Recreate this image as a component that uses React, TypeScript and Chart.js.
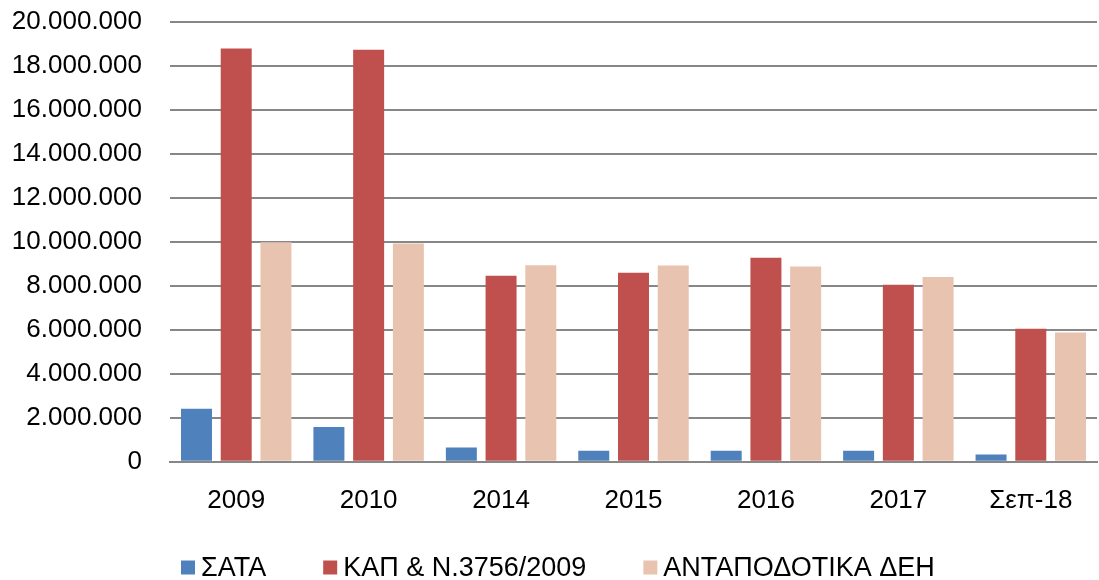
import React, { useEffect, useRef } from "react";
import { Chart, registerables } from "chart.js";

Chart.register(...registerables);

const categories = ["2009", "2010", "2014", "2015", "2016", "2017", "Σεπ-18"];
const seriesNames = ["ΣΑΤΑ", "ΚΑΠ & Ν.3756/2009", "ΑΝΤΑΠΟΔΟΤΙΚΑ ΔΕΗ"];
const sata = [2410000, 1580000, 650000, 500000, 500000, 500000, 330000];
const kap = [18800000, 18740000, 8460000, 8600000, 9280000, 8050000, 6050000];
const deh = [9980000, 9930000, 8940000, 8930000, 8880000, 8400000, 5880000];
const colors = ["#4F81BD", "#C0504D", "#E8C3AF"];
const yMax = 20000000;
const yStep = 2000000;

const FONT = "'Liberation Sans', Arial, sans-serif";

function fmt(v: number): string {
  return String(Math.round(v)).replace(/\B(?=(\d{3})+(?!\d))/g, ".");
}

const legendPlugin = {
  id: "customLegend",
  afterDraw(chart: any) {
    const ctx = chart.ctx;
    ctx.save();
    ctx.font = `27px ${FONT}`;
    ctx.textBaseline = "middle";
    ctx.textAlign = "left";
    const cy = 567.5;
    const box = 14;
    const gapText = 6;
    const gapItem = 57;
    let x = 181;
    chart.data.datasets.forEach((ds: any) => {
      ctx.fillStyle = ds.backgroundColor;
      ctx.fillRect(x, cy - box / 2, box, box);
      ctx.fillStyle = "#000";
      ctx.fillText(ds.label, x + box + gapText, cy + 1);
      x += box + gapText + ctx.measureText(ds.label).width + gapItem;
    });
    ctx.restore();
  },
};

export default function App() {
  const ref = useRef<HTMLCanvasElement | null>(null);
  useEffect(() => {
    if (!ref.current) return;
    const chart = new Chart(ref.current, {
      type: "bar",
      data: {
        labels: categories,
        datasets: [sata, kap, deh].map((d, i) => ({
          label: seriesNames[i],
          data: d,
          backgroundColor: colors[i],
          borderWidth: 0,
          categoryPercentage: 0.9,
          barPercentage: 0.78,
        })),
      },
      options: {
        animation: false,
        responsive: false,
        maintainAspectRatio: false,
        layout: { padding: { top: 22, right: 2, bottom: 41, left: 0 } },
        plugins: {
          tooltip: { enabled: false },
          legend: { display: false },
        },
        scales: {
          x: {
            grid: { display: false, drawTicks: false },
            border: { display: true, color: "#878787", width: 2 },
            ticks: {
              color: "#000",
              padding: 23,
              font: { family: FONT, size: 26 },
              maxRotation: 0,
            },
          },
          y: {
            min: 0,
            max: yMax,
            afterFit: (s: any) => {
              s.width = 170;
              s.paddingTop = 0;
              s.paddingBottom = 0;
            },
            grid: { color: "#878787", lineWidth: 2, drawTicks: false },
            border: { display: false },
            ticks: {
              stepSize: yStep,
              color: "#000",
              padding: 28,
              font: { family: FONT, size: 26 },
              callback: (v: any) => fmt(Number(v)),
            },
          },
        },
      },
      plugins: [legendPlugin],
    });
    return () => chart.destroy();
  }, []);
  return (
    <div style={{ position: "fixed", left: 0, top: 0, width: 1099, height: 580, background: "#fff" }}>
      <canvas ref={ref} width={1099} height={580} style={{ width: 1099, height: 580, display: "block" }} />
    </div>
  );
}
